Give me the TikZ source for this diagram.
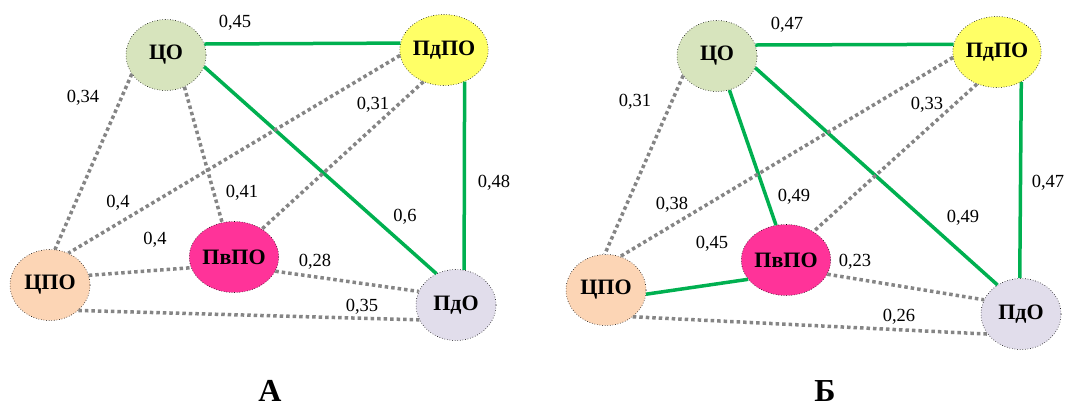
\documentclass[tikz,border=0pt]{standalone}
\usepackage{fontspec}
\setmainfont{Liberation Serif}
\usepackage{xcolor}
\usetikzlibrary{arrows,shapes.geometric}
\definecolor{grn}{HTML}{00B050}
\definecolor{dotgray}{HTML}{858585}
\definecolor{cCO}{HTML}{D7E4BD}
\definecolor{cPdPO}{HTML}{FFFF66}
\definecolor{cCPO}{HTML}{FCD5B5}
\definecolor{cPvPO}{HTML}{FF3399}
\definecolor{cPdO}{HTML}{E1DDEB}
\begin{document}
\begin{tikzpicture}[x=1pt,y=-1pt,
vert/.style={ellipse,draw,dotted,line width=0.6pt,minimum width=80pt,minimum height=71pt,inner sep=0pt,font=\fontsize{22}{24}\selectfont\bfseries},
strong/.style={color=grn,line width=3.5pt},
weak/.style={color=dotgray,line width=3.5pt,dash pattern=on 3.5pt off 3pt},
val/.style={font=\fontsize{18.5}{20}\selectfont},
panelcap/.style={inner sep=0pt,font=\fontsize{32}{34}\selectfont\bfseries}]
\useasboundingbox (0,0) rectangle (1086,410);

% panel A
\node[vert,fill=cCO] (a1) at (166,55) {ЦО};
\node[vert,fill=cPdPO] (a2) at (444,50) {ПдПО};
\node[vert,fill=cCPO] (a3) at (50,285) {ЦПО};
\node[vert,fill=cPvPO] (a4) at (234,257) {ПвПО};
\node[vert,fill=cPdO] (a5) at (456,305) {ПдО};

\foreach \p/\q in {a1.16/a2.171,a1.-17/a5.122,a2.-57/a5.77}
{
\draw[strong] (\p)--(\q);
}
\foreach \p/\q in {a1.-151/a3.82,a1.-60/a4.109,a2.187/a3.60,a2.-123/a4.45,a3.14/a4.194,a4.-19/a5.160,a3.-42/a5.202}
{
\draw[weak] (\p)--(\q);
}

\node[val] (la1) at (235,23) {0,45};
\node[val] (la2) at (83,98) {0,34};
\node[val] (la3) at (373,105) {0,31};
\node[val] (la4) at (494,183) {0,48};
\node[val] (la5) at (118,203) {0,4};
\node[val] (la6) at (242,193) {0,41};
\node[val] (la7) at (405,217) {0,6};
\node[val] (la8) at (155,240) {0,4};
\node[val] (la9) at (315,262) {0,28};
\node[val] (la10) at (362,307) {0,35};
\node[panelcap] (capA) at (270,391) {А};

% panel B
\node[vert,fill=cCO] (b1) at (717,56) {ЦО};
\node[vert,fill=cPdPO] (b2) at (997,52) {ПдПО};
\node[vert,fill=cCPO] (b3) at (606,290) {ЦПО};
\node[vert,fill=cPvPO] (b4) at (786,260) {ПвПО};
\node[vert,fill=cPdO] (b5) at (1021,314) {ПдО};

\foreach \p/\q in {b1.16/b2.170,b1.-70/b4.106,b1.-17/b5.129,b2.-51/b5.92,b3.-6/b4.207}
{
\draw[strong] (\p)--(\q);
}
\foreach \p/\q in {b1.-150/b3.92,b2.187/b3.67,b2.-122/b4.46,b4.-19/b5.159,b3.-45/b5.211}
{
\draw[weak] (\p)--(\q);
}

\node[val] (lb1) at (787,25) {0,47};
\node[val] (lb2) at (635,102) {0,31};
\node[val] (lb3) at (927,105) {0,33};
\node[val] (lb4) at (1048,183) {0,47};
\node[val] (lb5) at (672,205) {0,38};
\node[val] (lb6) at (794,197) {0,49};
\node[val] (lb7) at (963,218) {0,49};
\node[val] (lb8) at (712,244) {0,45};
\node[val] (lb9) at (855,262) {0,23};
\node[val] (lb10) at (899,317) {0,26};
\node[panelcap] (capB) at (825,391) {Б};
\end{tikzpicture}
\end{document}
